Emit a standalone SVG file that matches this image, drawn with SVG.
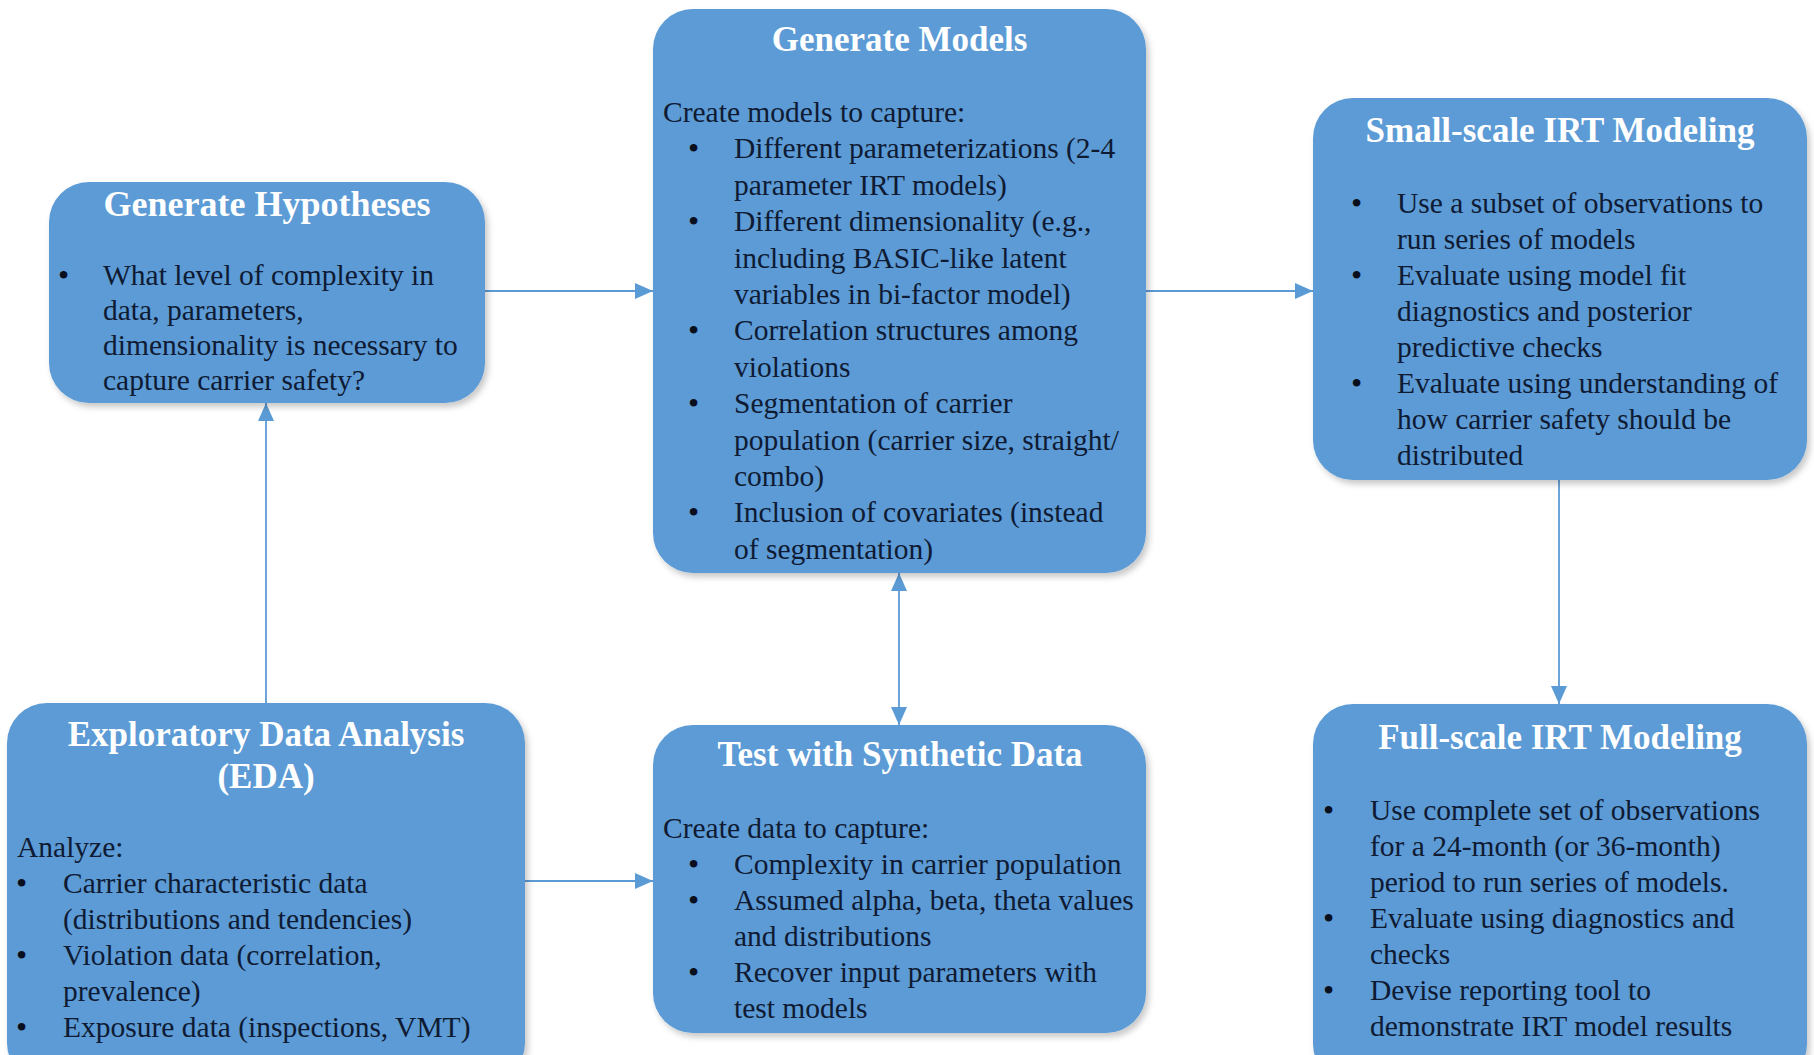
<svg xmlns="http://www.w3.org/2000/svg" width="1814" height="1055" viewBox="0 0 1814 1055">
<defs>
<filter id="sh" x="-10%" y="-10%" width="120%" height="120%">
<feDropShadow dx="3" dy="4" stdDeviation="3" flood-color="#000" flood-opacity="0.22"/>
</filter>
<marker id="arr" viewBox="0 0 18 16" refX="18" refY="8" markerWidth="18" markerHeight="16" markerUnits="userSpaceOnUse" orient="auto-start-reverse">
<path d="M0,0 L18,8 L0,16 z" fill="#5B9BD5"/>
</marker>
<style>
.box{fill:#5B9BD5;filter:url(#sh)}
.t{font-family:"Liberation Serif","Times New Roman",serif;font-weight:bold;font-size:35px;fill:#ffffff;text-anchor:middle}
.b{font-family:"Liberation Serif","Times New Roman",serif;font-size:29.5px;fill:#0f1a33}
.d{font-family:"Liberation Serif","Times New Roman",serif;font-size:32px;fill:#0a0f1e}
.c{stroke:#5B9BD5;stroke-width:1.8;fill:none}
</style>
</defs>
<rect width="1814" height="1055" fill="#ffffff"/>

<g id="connectors">
<line class="c" x1="485" y1="291" x2="653" y2="291" marker-end="url(#arr)"/>
<line class="c" x1="1146" y1="291" x2="1313" y2="291" marker-end="url(#arr)"/>
<line class="c" x1="266" y1="703" x2="266" y2="403" marker-end="url(#arr)"/>
<line class="c" x1="1559" y1="480" x2="1559" y2="704" marker-end="url(#arr)"/>
<line class="c" x1="899" y1="573" x2="899" y2="725" marker-start="url(#arr)" marker-end="url(#arr)"/>
<line class="c" x1="525" y1="881" x2="653" y2="881" marker-end="url(#arr)"/>
</g>

<g id="generate-hypotheses">
<rect class="box" x="49" y="182" width="436" height="221" rx="40"/>
<text class="t" x="267" y="216" style="font-size:36px">Generate Hypotheses</text>
<text class="d" x="58" y="286">•</text>
<text class="b" x="103" y="285">What level of complexity in</text>
<text class="b" x="103" y="320">data, parameters,</text>
<text class="b" x="103" y="355">dimensionality is necessary to</text>
<text class="b" x="103" y="390">capture carrier safety?</text>
</g>

<g id="generate-models">
<rect class="box" x="653" y="9" width="493" height="564" rx="40"/>
<text class="t" x="899.5" y="51">Generate Models</text>
<text class="b" x="663" y="122">Create models to capture:</text>
<text class="d" x="688" y="159">•</text>
<text class="b" x="734" y="158">Different parameterizations (2-4</text>
<text class="b" x="734" y="195">parameter IRT models)</text>
<text class="d" x="688" y="232">•</text>
<text class="b" x="734" y="231">Different dimensionality (e.g.,</text>
<text class="b" x="734" y="268">including BASIC-like latent</text>
<text class="b" x="734" y="304">variables in bi-factor model)</text>
<text class="d" x="688" y="341">•</text>
<text class="b" x="734" y="340">Correlation structures among</text>
<text class="b" x="734" y="377">violations</text>
<text class="d" x="688" y="414">•</text>
<text class="b" x="734" y="413">Segmentation of carrier</text>
<text class="b" x="734" y="450">population (carrier size, straight/</text>
<text class="b" x="734" y="486">combo)</text>
<text class="d" x="688" y="523">•</text>
<text class="b" x="734" y="522">Inclusion of covariates (instead</text>
<text class="b" x="734" y="559">of segmentation)</text>
</g>

<g id="small-scale-irt">
<rect class="box" x="1313" y="98" width="494" height="382" rx="40"/>
<text class="t" x="1560" y="142">Small-scale IRT Modeling</text>
<text class="d" x="1351" y="214">•</text>
<text class="b" x="1397" y="213">Use a subset of observations to</text>
<text class="b" x="1397" y="249">run series of models</text>
<text class="d" x="1351" y="286">•</text>
<text class="b" x="1397" y="285">Evaluate using model fit</text>
<text class="b" x="1397" y="321">diagnostics and posterior</text>
<text class="b" x="1397" y="357">predictive checks</text>
<text class="d" x="1351" y="394">•</text>
<text class="b" x="1397" y="393">Evaluate using understanding of</text>
<text class="b" x="1397" y="429">how carrier safety should be</text>
<text class="b" x="1397" y="465">distributed</text>
</g>

<g id="eda">
<rect class="box" x="7" y="703" width="518" height="380" rx="40"/>
<text class="t" x="266" y="746">Exploratory Data Analysis</text>
<text class="t" x="266" y="788">(EDA)</text>
<text class="b" x="17" y="857">Analyze:</text>
<text class="d" x="16" y="894">•</text>
<text class="b" x="63" y="893">Carrier characteristic data</text>
<text class="b" x="63" y="929">(distributions and tendencies)</text>
<text class="d" x="16" y="966">•</text>
<text class="b" x="63" y="965">Violation data (correlation,</text>
<text class="b" x="63" y="1001">prevalence)</text>
<text class="d" x="16" y="1038">•</text>
<text class="b" x="63" y="1037">Exposure data (inspections, VMT)</text>
</g>

<g id="test-synthetic">
<rect class="box" x="653" y="725" width="493" height="308" rx="40"/>
<text class="t" x="900" y="766">Test with Synthetic Data</text>
<text class="b" x="663" y="838">Create data to capture:</text>
<text class="d" x="688" y="875">•</text>
<text class="b" x="734" y="874">Complexity in carrier population</text>
<text class="d" x="688" y="911">•</text>
<text class="b" x="734" y="910">Assumed alpha, beta, theta values</text>
<text class="b" x="734" y="946">and distributions</text>
<text class="d" x="688" y="983">•</text>
<text class="b" x="734" y="982">Recover input parameters with</text>
<text class="b" x="734" y="1018">test models</text>
</g>

<g id="full-scale-irt">
<rect class="box" x="1313" y="704" width="494" height="380" rx="40"/>
<text class="t" x="1560" y="749">Full-scale IRT Modeling</text>
<text class="d" x="1323" y="821">•</text>
<text class="b" x="1370" y="820">Use complete set of observations</text>
<text class="b" x="1370" y="856">for a 24-month (or 36-month)</text>
<text class="b" x="1370" y="892">period to run series of models.</text>
<text class="d" x="1323" y="929">•</text>
<text class="b" x="1370" y="928">Evaluate using diagnostics and</text>
<text class="b" x="1370" y="964">checks</text>
<text class="d" x="1323" y="1001">•</text>
<text class="b" x="1370" y="1000">Devise reporting tool to</text>
<text class="b" x="1370" y="1036">demonstrate IRT model results</text>
</g>
</svg>
